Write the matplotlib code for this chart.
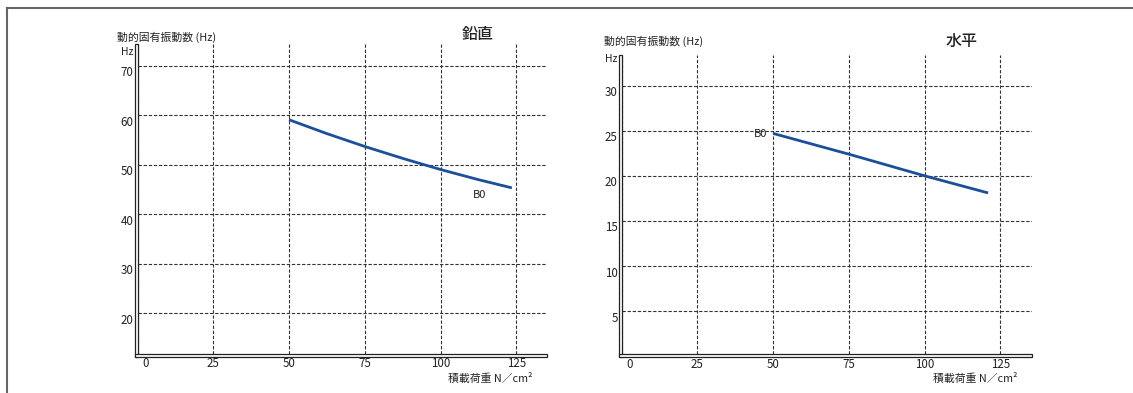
import matplotlib
matplotlib.use("Agg")
import matplotlib.pyplot as plt
from matplotlib.patches import Rectangle
from matplotlib.lines import Line2D
from matplotlib.transforms import ScaledTranslation

plt.rcParams['font.family'] = ['Noto Sans CJK JP', 'DejaVu Sans']

# 鉛直 (vertical) B0
v_load = [50, 62.5, 75, 87.5, 100, 112.5, 123.5]
v_freq = [59.1, 56.3, 53.7, 51.3, 49.05, 47.0, 45.35]
v_yticks = [20, 30, 40, 50, 60, 70]

# 水平 (horizontal) B0
h_load = [50, 75, 100, 121]
h_freq = [24.7, 22.4, 20.0, 18.1]
h_yticks = [5, 10, 15, 20, 25, 30]

x_ticks = [0, 25, 50, 75, 100, 125]

W, H = 1133, 393
LINE_COLOR = '#1b4f9c'
TXT = '#222222'

fig = plt.figure(figsize=(W / 100, H / 100), dpi=100)

# outer frame (top and left edges)
fig.add_artist(Line2D([6.5 / W, 6.5 / W], [0, 1 - 7.5 / H], color='#666666', lw=1.5))
fig.add_artist(Line2D([6.5 / W, 1], [1 - 7.5 / H, 1 - 7.5 / H], color='#666666', lw=1.5))


def draw_panel(rect, xlim, ylim, yticks, xs, ys, hz_dy, label_xy, label_ha):
    ax = fig.add_axes(rect)
    ax.plot(xs, ys, color=LINE_COLOR, lw=2.0, solid_capstyle='butt', zorder=3)
    ax.set_xlim(*xlim)
    ax.set_ylim(*ylim)
    ax.set_xticks(x_ticks)
    ax.set_yticks(yticks)
    ax.grid(True, color='#333333', lw=0.8, linestyle=(0, (3, 1.6)))
    for s in ax.spines.values():
        s.set_visible(False)
    ax.tick_params(length=0, labelsize=8.3, colors=TXT)
    ax.tick_params(axis='x', pad=2.5)
    ax.tick_params(axis='y', pad=3)
    down = ScaledTranslation(0, -4 / 72, fig.dpi_scale_trans)
    for lab in ax.get_yticklabels():
        lab.set_transform(lab.get_transform() + down)
    right = ScaledTranslation(6 / 72, 0, fig.dpi_scale_trans)
    x0lab = ax.get_xticklabels()[0]
    x0lab.set_transform(x0lab.get_transform() + right)

    # double-lined axis bars
    bw = 3.0  # px
    axw = rect[2] * W
    axh = rect[3] * H
    ax.add_patch(Rectangle((-bw / axw, -bw / axh), bw / axw, 1 + bw / axh,
                           transform=ax.transAxes, clip_on=False,
                           facecolor='white', edgecolor=TXT, lw=0.9, zorder=5))
    ax.add_patch(Rectangle((-bw / axw, -bw / axh), 1 + bw / axw, bw / axh,
                           transform=ax.transAxes, clip_on=False,
                           facecolor='white', edgecolor=TXT, lw=0.9, zorder=5))

    ax.text(-4 / axw, 1 - hz_dy / axh, 'Hz', transform=ax.transAxes,
            ha='right', va='center', fontsize=7.5, color=TXT)
    ax.text(label_xy[0], label_xy[1], 'B0', ha=label_ha, va='center',
            fontsize=8, color=TXT)
    ax.text(0.965, -24 / axh, '積載荷重 N／cm²', transform=ax.transAxes,
            ha='right', va='center', fontsize=7.8, color=TXT)
    return ax


ax1 = draw_panel([137.5 / W, 39 / H, 409.2 / W, 310 / H], (0, 135), (11.8, 74.4),
                 v_yticks, v_load, v_freq, 8, (113, 43.9), 'center')
fig.text(117 / W, 1 - 37 / H, '動的固有振動数 (Hz)', fontsize=7.8, ha='left', va='center', color=TXT)
fig.text(478 / W, 1 - 35 / H, '鉛直', fontsize=11.5, fontweight='medium', ha='center', va='center', color=TXT)

ax2 = draw_panel([621.7 / W, 38.7 / H, 410 / W, 299.3 / H], (1.76, 135.4), (0.2, 33.4),
                 h_yticks, h_load, h_freq, 4, (48.2, 24.6), 'right')
fig.text(604 / W, 1 - 41 / H, '動的固有振動数 (Hz)', fontsize=7.8, ha='left', va='center', color=TXT)
fig.text(962 / W, 1 - 41 / H, '水平', fontsize=11.5, fontweight='medium', ha='center', va='center', color=TXT)

fig.savefig('out.png', dpi=100)
